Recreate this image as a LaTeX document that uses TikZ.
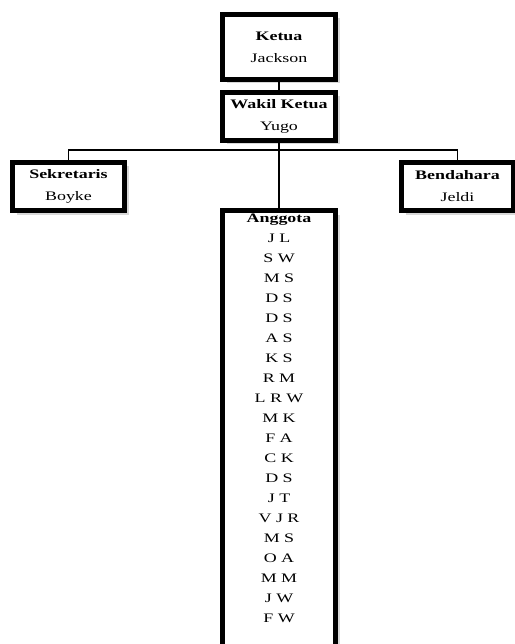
\documentclass[tikz,border=0pt]{standalone}
\usepackage{fontspec}
\setmainfont{Liberation Serif}[FakeStretch=1.38]
\usetikzlibrary{positioning, shadows}

\begin{document}
\begin{tikzpicture}[
    jabatan/.style={draw, line width=5pt, fill=white, minimum width=113pt, minimum height=48pt,
        align=center, font=\fontsize{13}{22}\selectfont, inner sep=2pt,
        drop shadow={shadow xshift=4pt, shadow yshift=-4pt, fill=black!30}},
    daftar/.style={align=center, font=\fontsize{13}{20}\selectfont, inner sep=0pt},
    garis/.style={line width=1.8pt}]

\useasboundingbox (0,0) rectangle (514pt,-644pt);

% Pengurus inti
\node[jabatan, minimum height=65pt] (ketua) at (279pt,-47pt) {\textbf{Ketua}\\Jackson};
\node[jabatan, below=8pt of ketua] (wakil) {\textbf{Wakil Ketua}\\Yugo};

% Sekretaris dan Bendahara
\node[jabatan, minimum width=112pt] (sekretaris) at (68.5pt,-186.5pt) {\textbf{Sekretaris}\\Boyke};
\node[jabatan, minimum width=112pt] (bendahara) at (457.5pt,-186.5pt) {\textbf{Bendahara}\\Jeldi};

% Anggota
\node[jabatan, below=65pt of wakil, minimum height=436pt] (anggota) {};
\node[daftar, below=6pt of anggota.north] (nama) {\textbf{Anggota}\\
    J L\\ S W\\ M S\\ D S\\ D S\\ A S\\ K S\\ R M\\ L R W\\ M K\\
    F A\\ C K\\ D S\\ J T\\ V J R\\ M S\\ O A\\ M M\\ J W\\ F W};

% Garis penghubung
\coordinate (cabang) at ([yshift=-7pt]wakil.south);
\draw[garis] (ketua.south) -- (wakil.north);
\draw[garis] (wakil.south) -- (anggota.north);
\draw[garis] (sekretaris.north) |- (cabang) -| (bendahara.north);

\end{tikzpicture}
\end{document}
